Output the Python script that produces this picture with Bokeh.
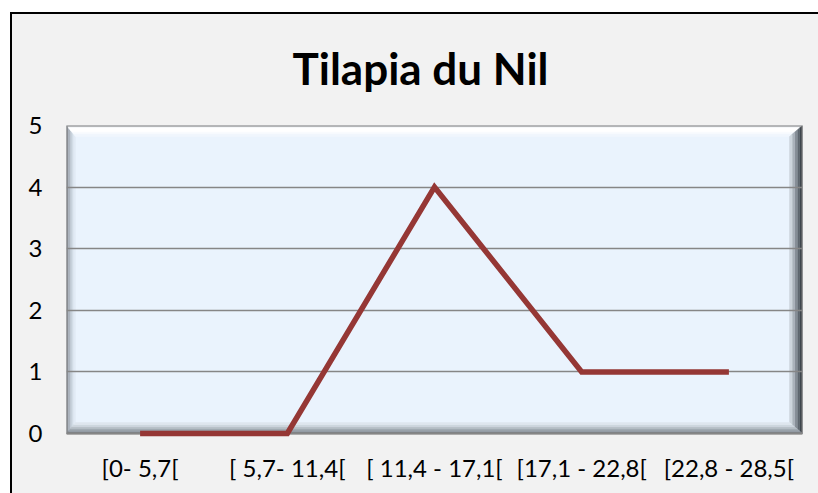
from bokeh.plotting import figure
from bokeh.models import Range1d, FixedTicker
from bokeh.embed import file_html
from bokeh.resources import INLINE

# ---- data ----
categories = ["[0- 5,7[", "[ 5,7- 11,4[", "[ 11,4 - 17,1[", "[17,1 - 22,8[", "[22,8 - 28,5["]
counts = [0, 0, 4, 1, 1]
y_ticks = [0, 1, 2, 3, 4, 5]
title_text = "Tilapia du Nil"

W, H = 818, 493
PAD = 4  # px of room below the zero line so the series is not clipped
ML, MR, MT, MB = 66, 16, 125, 60 - PAD
FW, FH = W - ML - MR, H - MT - MB

n = len(categories)
ymax = 5.0
xs = [i + 0.5 for i in range(n)]
ppu_y = (FH - PAD) / ymax
ystart = -PAD / ppu_y

p = figure(width=W, height=H, output_backend="svg", toolbar_location=None,
           x_range=Range1d(0, n), y_range=Range1d(ystart, ymax),
           min_border_left=ML, min_border_right=MR, min_border_top=MT, min_border_bottom=MB,
           background_fill_color="#F2F2F2", background_fill_alpha=0,
           border_fill_color="#F2F2F2", border_fill_alpha=0,
           title=title_text)

# chart-area background with outer frame (white margin, black border line)
p.styles = {
    "background": ("linear-gradient(to bottom, #FFFFFF 12px, transparent 12px), "
                   "linear-gradient(to right, #FFFFFF 10px, #000000 10px, #000000 12px, transparent 12px), "
                   "linear-gradient(to bottom, #FFFFFF 12px, #000000 12px, #000000 14px, #F2F2F2 14px)")
}

p.title.text_font = "Lato"
p.title.text_font_size = "44px"
p.title.text_font_style = "bold"
p.title.text_color = "#000000"
p.title.align = "left"
p.title.offset = 226
p.title.standoff = 64

p.outline_line_color = None

# plot area fill
x0, x1, y0, y1 = 0.0, float(n), 0.0, ymax
area = p.quad(left=[x0], right=[x1], bottom=[y0], top=[y1],
              fill_color="#EAF3FD", line_color=None)
area.level = "image"

# bevel around plot area
sx = n / FW
sy = 1.0 / ppu_y
wl, wt, wr, wb = 9, 11, 13, 11

def rect_at(f):
    return (x0 + f * wl * sx, x1 - f * wr * sx, y0 + f * wb * sy, y1 - f * wt * sy)

sides = {
    "left": ["#9098A2", "#A8B1BB", "#BFC8D2", "#D3DCE6", "#E2EBF5"],
    "top": ["#E8ECF0", "#FFFFFF", "#FFFFFF", "#F8FBFE", "#F0F6FD"],
    "right": ["#3A4047", "#5E666E", "#858D95", "#AAB2BA", "#CDD5DD"],
    "bottom": ["#7E868E", "#9AA2AA", "#B5BDC5", "#CDD5DD", "#DEE6EE"],
}
pxs, pys, cols = [], [], []
for side, colors in sides.items():
    k = len(colors)
    for i, c in enumerate(colors):
        La, Ra, Ba, Ta = rect_at(i / k)
        Lb, Rb, Bb, Tb = rect_at((i + 1) / k)
        if side == "left":
            pts = [(La, Ba), (La, Ta), (Lb, Tb), (Lb, Bb)]
        elif side == "top":
            pts = [(La, Ta), (Ra, Ta), (Rb, Tb), (Lb, Tb)]
        elif side == "right":
            pts = [(Ra, Ta), (Ra, Ba), (Rb, Bb), (Rb, Tb)]
        else:
            pts = [(La, Ba), (Ra, Ba), (Rb, Bb), (Lb, Bb)]
        pxs.append([q[0] for q in pts])
        pys.append([q[1] for q in pts])
        cols.append(c)
bev = p.patches(pxs, pys, fill_color=cols, line_color=cols, line_width=0.5)
bev.level = "image"

edge = p.quad(left=[x0], right=[x1], bottom=[y0], top=[y1],
              fill_color=None, line_color="#7F7F7F", line_width=2)
edge.level = "image"

# grid
p.xgrid.grid_line_color = None
p.ygrid.grid_line_color = "#868686"
p.ygrid.grid_line_width = 1.5
p.ygrid.ticker = FixedTicker(ticks=y_ticks)

# series
p.line(xs, counts, line_color="#953735", line_width=5.5, line_join="miter")

# axes
p.xaxis.ticker = FixedTicker(ticks=xs)
p.xaxis.major_label_overrides = {x: c for x, c in zip(xs, categories)}
p.yaxis.ticker = FixedTicker(ticks=y_ticks)
for ax in (p.xaxis, p.yaxis):
    ax.axis_line_color = None
    ax.major_tick_line_color = None
    ax.minor_tick_line_color = None
    ax.major_tick_out = 0
    ax.major_tick_in = 0
    ax.major_label_text_font = "Lato"
    ax.major_label_text_font_size = "24px"
    ax.major_label_text_color = "#000000"
p.xaxis.major_label_standoff = 15
p.yaxis.major_label_standoff = 24

open("out.html", "w").write(file_html(p, INLINE))
